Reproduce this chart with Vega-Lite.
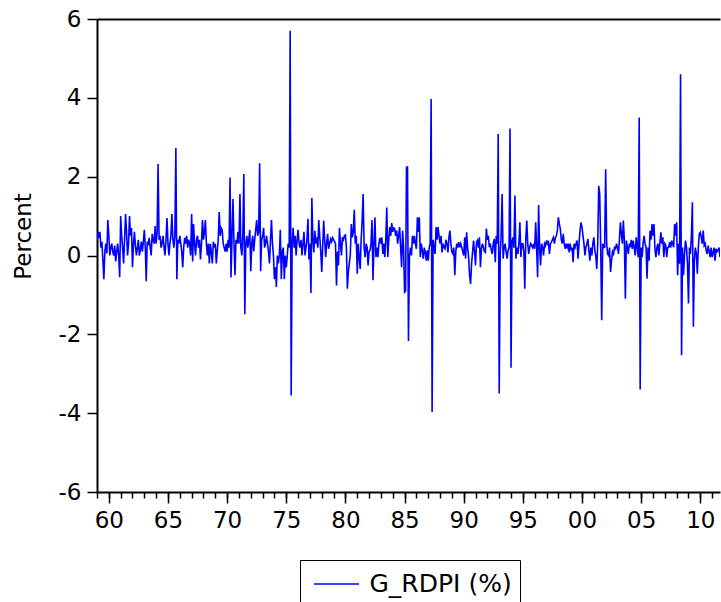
{
"$schema":"https://vega.github.io/schema/vega-lite/v6.json",
"autosize":"none",
"width":623,"height":473,
"padding":{"left":97,"top":19,"right":1,"bottom":110},
"background":"white",
"config":{"view":{"stroke":null},"font":"DejaVu Sans",
"axis":{"labelFont":"DejaVu Sans","titleFont":"DejaVu Sans","labelColor":"black","titleColor":"black","domainColor":"black","tickColor":"black","titleFontWeight":"normal","grid":false,"labelFlush":false,"labelOverlap":false}},
"datasets":{"s":[
{"d":"1959-01-01","v":0.4},{"d":"1959-02-01","v":0.6},{"d":"1959-03-01","v":0.45},{"d":"1959-04-01","v":0.6},{"d":"1959-05-01","v":0.2},{"d":"1959-06-01","v":0.35},{"d":"1959-07-01","v":-0.1},{"d":"1959-08-01","v":-0.6},{"d":"1959-09-01","v":0.1},{"d":"1959-10-01","v":0.3},{"d":"1959-11-01","v":0.05},{"d":"1959-12-01","v":0.9},
{"d":"1960-01-01","v":0.5},{"d":"1960-02-01","v":0.0},{"d":"1960-03-01","v":0.2},{"d":"1960-04-01","v":0.3},{"d":"1960-05-01","v":0.1},{"d":"1960-06-01","v":0.0},{"d":"1960-07-01","v":0.25},{"d":"1960-08-01","v":-0.15},{"d":"1960-09-01","v":0.1},{"d":"1960-10-01","v":0.3},{"d":"1960-11-01","v":0.0},{"d":"1960-12-01","v":-0.55},
{"d":"1961-01-01","v":1.0},{"d":"1961-02-01","v":0.5},{"d":"1961-03-01","v":0.2},{"d":"1961-04-01","v":-0.2},{"d":"1961-05-01","v":0.4},{"d":"1961-06-01","v":1.05},{"d":"1961-07-01","v":0.6},{"d":"1961-08-01","v":0.0},{"d":"1961-09-01","v":0.3},{"d":"1961-10-01","v":1.0},{"d":"1961-11-01","v":0.5},{"d":"1961-12-01","v":0.7},
{"d":"1962-01-01","v":-0.3},{"d":"1962-02-01","v":0.3},{"d":"1962-03-01","v":0.6},{"d":"1962-04-01","v":0.25},{"d":"1962-05-01","v":0.0},{"d":"1962-06-01","v":0.2},{"d":"1962-07-01","v":0.4},{"d":"1962-08-01","v":0.0},{"d":"1962-09-01","v":0.15},{"d":"1962-10-01","v":0.35},{"d":"1962-11-01","v":0.1},{"d":"1962-12-01","v":0.35},
{"d":"1963-01-01","v":0.65},{"d":"1963-02-01","v":0.2},{"d":"1963-03-01","v":-0.65},{"d":"1963-04-01","v":0.35},{"d":"1963-05-01","v":0.3},{"d":"1963-06-01","v":0.45},{"d":"1963-07-01","v":0.2},{"d":"1963-08-01","v":0.0},{"d":"1963-09-01","v":0.55},{"d":"1963-10-01","v":0.4},{"d":"1963-11-01","v":0.3},{"d":"1963-12-01","v":0.75},
{"d":"1964-01-01","v":0.3},{"d":"1964-02-01","v":0.6},{"d":"1964-03-01","v":2.32},{"d":"1964-04-01","v":0.4},{"d":"1964-05-01","v":0.5},{"d":"1964-06-01","v":0.2},{"d":"1964-07-01","v":0.3},{"d":"1964-08-01","v":0.5},{"d":"1964-09-01","v":0.2},{"d":"1964-10-01","v":0.0},{"d":"1964-11-01","v":0.4},{"d":"1964-12-01","v":0.95},
{"d":"1965-01-01","v":0.3},{"d":"1965-02-01","v":0.0},{"d":"1965-03-01","v":0.3},{"d":"1965-04-01","v":0.5},{"d":"1965-05-01","v":1.05},{"d":"1965-06-01","v":0.4},{"d":"1965-07-01","v":0.2},{"d":"1965-08-01","v":0.5},{"d":"1965-09-01","v":2.73},{"d":"1965-10-01","v":-0.6},{"d":"1965-11-01","v":0.4},{"d":"1965-12-01","v":0.3},
{"d":"1966-01-01","v":0.5},{"d":"1966-02-01","v":0.3},{"d":"1966-03-01","v":0.1},{"d":"1966-04-01","v":-0.3},{"d":"1966-05-01","v":0.2},{"d":"1966-06-01","v":0.45},{"d":"1966-07-01","v":0.3},{"d":"1966-08-01","v":0.5},{"d":"1966-09-01","v":0.2},{"d":"1966-10-01","v":0.4},{"d":"1966-11-01","v":0.3},{"d":"1966-12-01","v":0.0},
{"d":"1967-01-01","v":1.05},{"d":"1967-02-01","v":-0.15},{"d":"1967-03-01","v":0.8},{"d":"1967-04-01","v":0.3},{"d":"1967-05-01","v":0.0},{"d":"1967-06-01","v":0.4},{"d":"1967-07-01","v":0.5},{"d":"1967-08-01","v":0.2},{"d":"1967-09-01","v":0.4},{"d":"1967-10-01","v":-0.1},{"d":"1967-11-01","v":0.3},{"d":"1967-12-01","v":0.9},
{"d":"1968-01-01","v":0.4},{"d":"1968-02-01","v":0.6},{"d":"1968-03-01","v":0.9},{"d":"1968-04-01","v":0.3},{"d":"1968-05-01","v":0.0},{"d":"1968-06-01","v":0.3},{"d":"1968-07-01","v":-0.2},{"d":"1968-08-01","v":0.3},{"d":"1968-09-01","v":0.1},{"d":"1968-10-01","v":-0.2},{"d":"1968-11-01","v":0.35},{"d":"1968-12-01","v":0.2},
{"d":"1969-01-01","v":0.3},{"d":"1969-02-01","v":-0.2},{"d":"1969-03-01","v":0.1},{"d":"1969-04-01","v":0.4},{"d":"1969-05-01","v":1.1},{"d":"1969-06-01","v":0.5},{"d":"1969-07-01","v":0.7},{"d":"1969-08-01","v":0.65},{"d":"1969-09-01","v":0.3},{"d":"1969-10-01","v":0.2},{"d":"1969-11-01","v":0.1},{"d":"1969-12-01","v":0.3},
{"d":"1970-01-01","v":0.1},{"d":"1970-02-01","v":0.4},{"d":"1970-03-01","v":0.2},{"d":"1970-04-01","v":1.98},{"d":"1970-05-01","v":-0.56},{"d":"1970-06-01","v":0.5},{"d":"1970-07-01","v":1.43},{"d":"1970-08-01","v":0.3},{"d":"1970-09-01","v":-0.5},{"d":"1970-10-01","v":0.4},{"d":"1970-11-01","v":0.3},{"d":"1970-12-01","v":0.6},
{"d":"1971-01-01","v":0.3},{"d":"1971-02-01","v":1.56},{"d":"1971-03-01","v":0.2},{"d":"1971-04-01","v":0.0},{"d":"1971-05-01","v":0.5},{"d":"1971-06-01","v":2.07},{"d":"1971-07-01","v":-1.49},{"d":"1971-08-01","v":0.3},{"d":"1971-09-01","v":0.5},{"d":"1971-10-01","v":0.2},{"d":"1971-11-01","v":0.4},{"d":"1971-12-01","v":0.65},
{"d":"1972-01-01","v":-0.4},{"d":"1972-02-01","v":0.3},{"d":"1972-03-01","v":0.5},{"d":"1972-04-01","v":0.1},{"d":"1972-05-01","v":0.4},{"d":"1972-06-01","v":0.65},{"d":"1972-07-01","v":0.9},{"d":"1972-08-01","v":0.5},{"d":"1972-09-01","v":0.6},{"d":"1972-10-01","v":2.34},{"d":"1972-11-01","v":-0.4},{"d":"1972-12-01","v":0.4},
{"d":"1973-01-01","v":0.5},{"d":"1973-02-01","v":0.7},{"d":"1973-03-01","v":0.2},{"d":"1973-04-01","v":0.3},{"d":"1973-05-01","v":0.5},{"d":"1973-06-01","v":0.3},{"d":"1973-07-01","v":0.1},{"d":"1973-08-01","v":-0.2},{"d":"1973-09-01","v":0.4},{"d":"1973-10-01","v":0.9},{"d":"1973-11-01","v":0.3},{"d":"1973-12-01","v":0.0},
{"d":"1974-01-01","v":-0.6},{"d":"1974-02-01","v":-0.3},{"d":"1974-03-01","v":-0.8},{"d":"1974-04-01","v":0.0},{"d":"1974-05-01","v":-0.2},{"d":"1974-06-01","v":0.0},{"d":"1974-07-01","v":0.65},{"d":"1974-08-01","v":-0.6},{"d":"1974-09-01","v":0.1},{"d":"1974-10-01","v":0.2},{"d":"1974-11-01","v":-0.6},{"d":"1974-12-01","v":0.0},
{"d":"1975-01-01","v":-0.3},{"d":"1975-02-01","v":0.0},{"d":"1975-03-01","v":0.3},{"d":"1975-04-01","v":0.2},{"d":"1975-05-01","v":5.7},{"d":"1975-06-01","v":-3.55},{"d":"1975-07-01","v":0.3},{"d":"1975-08-01","v":0.7},{"d":"1975-09-01","v":0.2},{"d":"1975-10-01","v":0.5},{"d":"1975-11-01","v":0.0},{"d":"1975-12-01","v":0.4},
{"d":"1976-01-01","v":0.65},{"d":"1976-02-01","v":0.3},{"d":"1976-03-01","v":0.2},{"d":"1976-04-01","v":0.4},{"d":"1976-05-01","v":0.0},{"d":"1976-06-01","v":0.3},{"d":"1976-07-01","v":0.6},{"d":"1976-08-01","v":0.0},{"d":"1976-09-01","v":0.2},{"d":"1976-10-01","v":0.4},{"d":"1976-11-01","v":0.93},{"d":"1976-12-01","v":-0.1},
{"d":"1977-01-01","v":0.3},{"d":"1977-02-01","v":-0.95},{"d":"1977-03-01","v":1.46},{"d":"1977-04-01","v":0.4},{"d":"1977-05-01","v":0.08},{"d":"1977-06-01","v":0.63},{"d":"1977-07-01","v":0.3},{"d":"1977-08-01","v":0.46},{"d":"1977-09-01","v":0.2},{"d":"1977-10-01","v":0.9},{"d":"1977-11-01","v":0.46},{"d":"1977-12-01","v":0.1},
{"d":"1978-01-01","v":-0.42},{"d":"1978-02-01","v":0.3},{"d":"1978-03-01","v":0.89},{"d":"1978-04-01","v":0.4},{"d":"1978-05-01","v":-0.04},{"d":"1978-06-01","v":0.3},{"d":"1978-07-01","v":0.55},{"d":"1978-08-01","v":0.17},{"d":"1978-09-01","v":0.3},{"d":"1978-10-01","v":0.42},{"d":"1978-11-01","v":0.35},{"d":"1978-12-01","v":0.45},
{"d":"1979-01-01","v":0.4},{"d":"1979-02-01","v":0.35},{"d":"1979-03-01","v":0.3},{"d":"1979-04-01","v":-0.76},{"d":"1979-05-01","v":0.1},{"d":"1979-06-01","v":-0.25},{"d":"1979-07-01","v":0.7},{"d":"1979-08-01","v":0.3},{"d":"1979-09-01","v":0.0},{"d":"1979-10-01","v":0.46},{"d":"1979-11-01","v":0.4},{"d":"1979-12-01","v":0.5},
{"d":"1980-01-01","v":0.52},{"d":"1980-02-01","v":0.2},{"d":"1980-03-01","v":-0.84},{"d":"1980-04-01","v":-0.42},{"d":"1980-05-01","v":-0.2},{"d":"1980-06-01","v":0.04},{"d":"1980-07-01","v":0.8},{"d":"1980-08-01","v":0.46},{"d":"1980-09-01","v":0.6},{"d":"1980-10-01","v":1.16},{"d":"1980-11-01","v":0.3},{"d":"1980-12-01","v":0.5},
{"d":"1981-01-01","v":-0.46},{"d":"1981-02-01","v":0.3},{"d":"1981-03-01","v":-0.04},{"d":"1981-04-01","v":-0.34},{"d":"1981-05-01","v":0.4},{"d":"1981-06-01","v":0.89},{"d":"1981-07-01","v":1.56},{"d":"1981-08-01","v":0.2},{"d":"1981-09-01","v":-0.04},{"d":"1981-10-01","v":0.3},{"d":"1981-11-01","v":0.21},{"d":"1981-12-01","v":-0.25},
{"d":"1982-01-01","v":0.1},{"d":"1982-02-01","v":0.13},{"d":"1982-03-01","v":0.3},{"d":"1982-04-01","v":0.9},{"d":"1982-05-01","v":-0.63},{"d":"1982-06-01","v":0.3},{"d":"1982-07-01","v":0.97},{"d":"1982-08-01","v":-0.04},{"d":"1982-09-01","v":0.2},{"d":"1982-10-01","v":-0.04},{"d":"1982-11-01","v":0.3},{"d":"1982-12-01","v":0.45},
{"d":"1983-01-01","v":0.3},{"d":"1983-02-01","v":0.46},{"d":"1983-03-01","v":0.04},{"d":"1983-04-01","v":0.3},{"d":"1983-05-01","v":-0.04},{"d":"1983-06-01","v":0.4},{"d":"1983-07-01","v":1.22},{"d":"1983-08-01","v":-0.04},{"d":"1983-09-01","v":0.4},{"d":"1983-10-01","v":0.72},{"d":"1983-11-01","v":0.5},{"d":"1983-12-01","v":0.82},
{"d":"1984-01-01","v":0.6},{"d":"1984-02-01","v":0.7},{"d":"1984-03-01","v":0.68},{"d":"1984-04-01","v":0.5},{"d":"1984-05-01","v":0.63},{"d":"1984-06-01","v":0.3},{"d":"1984-07-01","v":0.5},{"d":"1984-08-01","v":0.72},{"d":"1984-09-01","v":0.2},{"d":"1984-10-01","v":-0.3},{"d":"1984-11-01","v":0.63},{"d":"1984-12-01","v":0.2},
{"d":"1985-01-01","v":-0.93},{"d":"1985-02-01","v":-0.9},{"d":"1985-03-01","v":2.24},{"d":"1985-04-01","v":2.25},{"d":"1985-05-01","v":-2.17},{"d":"1985-06-01","v":0.0},{"d":"1985-07-01","v":0.2},{"d":"1985-08-01","v":0.0},{"d":"1985-09-01","v":0.5},{"d":"1985-10-01","v":0.3},{"d":"1985-11-01","v":0.5},{"d":"1985-12-01","v":0.3},
{"d":"1986-01-01","v":0.17},{"d":"1986-02-01","v":0.97},{"d":"1986-03-01","v":0.6},{"d":"1986-04-01","v":0.97},{"d":"1986-05-01","v":-0.04},{"d":"1986-06-01","v":0.3},{"d":"1986-07-01","v":0.13},{"d":"1986-08-01","v":-0.08},{"d":"1986-09-01","v":0.2},{"d":"1986-10-01","v":0.08},{"d":"1986-11-01","v":-0.13},{"d":"1986-12-01","v":0.13},
{"d":"1987-01-01","v":-0.13},{"d":"1987-02-01","v":0.2},{"d":"1987-03-01","v":0.3},{"d":"1987-04-01","v":3.97},{"d":"1987-05-01","v":-3.97},{"d":"1987-06-01","v":0.4},{"d":"1987-07-01","v":0.21},{"d":"1987-08-01","v":0.04},{"d":"1987-09-01","v":0.72},{"d":"1987-10-01","v":0.4},{"d":"1987-11-01","v":0.72},{"d":"1987-12-01","v":0.5},
{"d":"1988-01-01","v":0.3},{"d":"1988-02-01","v":0.5},{"d":"1988-03-01","v":0.08},{"d":"1988-04-01","v":0.3},{"d":"1988-05-01","v":0.21},{"d":"1988-06-01","v":0.17},{"d":"1988-07-01","v":0.4},{"d":"1988-08-01","v":0.3},{"d":"1988-09-01","v":0.08},{"d":"1988-10-01","v":0.46},{"d":"1988-11-01","v":0.63},{"d":"1988-12-01","v":0.3},
{"d":"1989-01-01","v":0.08},{"d":"1989-02-01","v":0.04},{"d":"1989-03-01","v":0.2},{"d":"1989-04-01","v":-0.5},{"d":"1989-05-01","v":0.1},{"d":"1989-06-01","v":0.3},{"d":"1989-07-01","v":0.2},{"d":"1989-08-01","v":0.34},{"d":"1989-09-01","v":0.21},{"d":"1989-10-01","v":0.3},{"d":"1989-11-01","v":0.21},{"d":"1989-12-01","v":0.1},
{"d":"1990-01-01","v":0.0},{"d":"1990-02-01","v":0.46},{"d":"1990-03-01","v":-0.08},{"d":"1990-04-01","v":0.59},{"d":"1990-05-01","v":0.2},{"d":"1990-06-01","v":-0.04},{"d":"1990-07-01","v":-0.5},{"d":"1990-08-01","v":-0.72},{"d":"1990-09-01","v":-0.2},{"d":"1990-10-01","v":0.08},{"d":"1990-11-01","v":0.38},{"d":"1990-12-01","v":0.1},
{"d":"1991-01-01","v":-0.25},{"d":"1991-02-01","v":0.34},{"d":"1991-03-01","v":0.38},{"d":"1991-04-01","v":0.2},{"d":"1991-05-01","v":0.46},{"d":"1991-06-01","v":-0.3},{"d":"1991-07-01","v":0.17},{"d":"1991-08-01","v":0.3},{"d":"1991-09-01","v":0.21},{"d":"1991-10-01","v":0.1},{"d":"1991-11-01","v":0.08},{"d":"1991-12-01","v":0.68},
{"d":"1992-01-01","v":0.4},{"d":"1992-02-01","v":0.5},{"d":"1992-03-01","v":0.21},{"d":"1992-04-01","v":0.3},{"d":"1992-05-01","v":0.13},{"d":"1992-06-01","v":0.04},{"d":"1992-07-01","v":0.3},{"d":"1992-08-01","v":0.42},{"d":"1992-09-01","v":-0.17},{"d":"1992-10-01","v":0.5},{"d":"1992-11-01","v":0.3},{"d":"1992-12-01","v":3.08},
{"d":"1993-01-01","v":-3.5},{"d":"1993-02-01","v":0.04},{"d":"1993-03-01","v":0.5},{"d":"1993-04-01","v":1.56},{"d":"1993-05-01","v":-0.08},{"d":"1993-06-01","v":0.2},{"d":"1993-07-01","v":0.3},{"d":"1993-08-01","v":0.1},{"d":"1993-09-01","v":-0.08},{"d":"1993-10-01","v":0.13},{"d":"1993-11-01","v":0.2},{"d":"1993-12-01","v":3.22},
{"d":"1994-01-01","v":-2.85},{"d":"1994-02-01","v":0.38},{"d":"1994-03-01","v":0.46},{"d":"1994-04-01","v":0.2},{"d":"1994-05-01","v":1.52},{"d":"1994-06-01","v":-0.08},{"d":"1994-07-01","v":0.2},{"d":"1994-08-01","v":0.04},{"d":"1994-09-01","v":0.3},{"d":"1994-10-01","v":0.84},{"d":"1994-11-01","v":-0.04},{"d":"1994-12-01","v":0.3},
{"d":"1995-01-01","v":0.3},{"d":"1995-02-01","v":0.1},{"d":"1995-03-01","v":-0.84},{"d":"1995-04-01","v":0.4},{"d":"1995-05-01","v":0.89},{"d":"1995-06-01","v":0.3},{"d":"1995-07-01","v":0.04},{"d":"1995-08-01","v":0.21},{"d":"1995-09-01","v":0.3},{"d":"1995-10-01","v":0.25},{"d":"1995-11-01","v":0.2},{"d":"1995-12-01","v":0.3},
{"d":"1996-01-01","v":0.17},{"d":"1996-02-01","v":0.84},{"d":"1996-03-01","v":0.2},{"d":"1996-04-01","v":-0.55},{"d":"1996-05-01","v":1.28},{"d":"1996-06-01","v":0.2},{"d":"1996-07-01","v":-0.25},{"d":"1996-08-01","v":0.3},{"d":"1996-09-01","v":0.21},{"d":"1996-10-01","v":0.0},{"d":"1996-11-01","v":0.3},{"d":"1996-12-01","v":0.25},
{"d":"1997-01-01","v":0.38},{"d":"1997-02-01","v":0.3},{"d":"1997-03-01","v":0.34},{"d":"1997-04-01","v":0.04},{"d":"1997-05-01","v":0.3},{"d":"1997-06-01","v":0.34},{"d":"1997-07-01","v":0.4},{"d":"1997-08-01","v":0.46},{"d":"1997-09-01","v":0.3},{"d":"1997-10-01","v":0.45},{"d":"1997-11-01","v":0.5},{"d":"1997-12-01","v":0.63},
{"d":"1998-01-01","v":0.97},{"d":"1998-02-01","v":0.8},{"d":"1998-03-01","v":0.68},{"d":"1998-04-01","v":0.4},{"d":"1998-05-01","v":0.3},{"d":"1998-06-01","v":0.55},{"d":"1998-07-01","v":0.3},{"d":"1998-08-01","v":0.17},{"d":"1998-09-01","v":0.3},{"d":"1998-10-01","v":0.21},{"d":"1998-11-01","v":0.3},{"d":"1998-12-01","v":0.08},
{"d":"1999-01-01","v":0.3},{"d":"1999-02-01","v":0.13},{"d":"1999-03-01","v":0.2},{"d":"1999-04-01","v":-0.17},{"d":"1999-05-01","v":0.3},{"d":"1999-06-01","v":0.21},{"d":"1999-07-01","v":0.3},{"d":"1999-08-01","v":0.38},{"d":"1999-09-01","v":-0.08},{"d":"1999-10-01","v":0.3},{"d":"1999-11-01","v":0.63},{"d":"1999-12-01","v":0.84},
{"d":"2000-01-01","v":0.72},{"d":"2000-02-01","v":0.5},{"d":"2000-03-01","v":0.3},{"d":"2000-04-01","v":0.0},{"d":"2000-05-01","v":0.21},{"d":"2000-06-01","v":0.3},{"d":"2000-07-01","v":0.42},{"d":"2000-08-01","v":0.13},{"d":"2000-09-01","v":-0.13},{"d":"2000-10-01","v":0.2},{"d":"2000-11-01","v":0.0},{"d":"2000-12-01","v":0.3},
{"d":"2001-01-01","v":0.46},{"d":"2001-02-01","v":0.13},{"d":"2001-03-01","v":0.0},{"d":"2001-04-01","v":-0.34},{"d":"2001-05-01","v":0.3},{"d":"2001-06-01","v":1.77},{"d":"2001-07-01","v":1.56},{"d":"2001-08-01","v":0.2},{"d":"2001-09-01","v":-1.64},{"d":"2001-10-01","v":0.3},{"d":"2001-11-01","v":0.2},{"d":"2001-12-01","v":0.21},
{"d":"2002-01-01","v":2.19},{"d":"2002-02-01","v":0.3},{"d":"2002-03-01","v":0.04},{"d":"2002-04-01","v":0.0},{"d":"2002-05-01","v":0.2},{"d":"2002-06-01","v":-0.42},{"d":"2002-07-01","v":-0.13},{"d":"2002-08-01","v":0.1},{"d":"2002-09-01","v":0.04},{"d":"2002-10-01","v":0.2},{"d":"2002-11-01","v":0.17},{"d":"2002-12-01","v":0.3},
{"d":"2003-01-01","v":0.2},{"d":"2003-02-01","v":0.04},{"d":"2003-03-01","v":0.4},{"d":"2003-04-01","v":0.84},{"d":"2003-05-01","v":0.55},{"d":"2003-06-01","v":0.3},{"d":"2003-07-01","v":0.89},{"d":"2003-08-01","v":0.4},{"d":"2003-09-01","v":-1.1},{"d":"2003-10-01","v":0.38},{"d":"2003-11-01","v":0.2},{"d":"2003-12-01","v":0.04},
{"d":"2004-01-01","v":0.3},{"d":"2004-02-01","v":0.21},{"d":"2004-03-01","v":0.4},{"d":"2004-04-01","v":0.17},{"d":"2004-05-01","v":0.38},{"d":"2004-06-01","v":0.2},{"d":"2004-07-01","v":0.0},{"d":"2004-08-01","v":0.46},{"d":"2004-09-01","v":0.2},{"d":"2004-10-01","v":-0.04},{"d":"2004-11-01","v":3.5},{"d":"2004-12-01","v":-3.4},
{"d":"2005-01-01","v":0.2},{"d":"2005-02-01","v":-0.04},{"d":"2005-03-01","v":0.3},{"d":"2005-04-01","v":0.5},{"d":"2005-05-01","v":0.3},{"d":"2005-06-01","v":0.21},{"d":"2005-07-01","v":-0.59},{"d":"2005-08-01","v":0.2},{"d":"2005-09-01","v":-0.13},{"d":"2005-10-01","v":0.63},{"d":"2005-11-01","v":0.4},{"d":"2005-12-01","v":0.8},
{"d":"2006-01-01","v":0.5},{"d":"2006-02-01","v":0.8},{"d":"2006-03-01","v":0.17},{"d":"2006-04-01","v":-0.04},{"d":"2006-05-01","v":0.2},{"d":"2006-06-01","v":0.3},{"d":"2006-07-01","v":0.0},{"d":"2006-08-01","v":0.3},{"d":"2006-09-01","v":0.59},{"d":"2006-10-01","v":0.3},{"d":"2006-11-01","v":0.46},{"d":"2006-12-01","v":-0.04},
{"d":"2007-01-01","v":0.3},{"d":"2007-02-01","v":0.25},{"d":"2007-03-01","v":-0.04},{"d":"2007-04-01","v":0.2},{"d":"2007-05-01","v":0.21},{"d":"2007-06-01","v":0.34},{"d":"2007-07-01","v":0.2},{"d":"2007-08-01","v":0.38},{"d":"2007-09-01","v":0.3},{"d":"2007-10-01","v":0.21},{"d":"2007-11-01","v":0.8},{"d":"2007-12-01","v":0.5},
{"d":"2008-01-01","v":0.84},{"d":"2008-02-01","v":-0.5},{"d":"2008-03-01","v":0.3},{"d":"2008-04-01","v":-0.21},{"d":"2008-05-01","v":4.6},{"d":"2008-06-01","v":-2.53},{"d":"2008-07-01","v":0.2},{"d":"2008-08-01","v":-0.5},{"d":"2008-09-01","v":0.04},{"d":"2008-10-01","v":0.38},{"d":"2008-11-01","v":0.2},{"d":"2008-12-01","v":-0.21},
{"d":"2009-01-01","v":-1.22},{"d":"2009-02-01","v":0.2},{"d":"2009-03-01","v":0.04},{"d":"2009-04-01","v":0.5},{"d":"2009-05-01","v":1.35},{"d":"2009-06-01","v":-1.81},{"d":"2009-07-01","v":-0.13},{"d":"2009-08-01","v":0.2},{"d":"2009-09-01","v":0.04},{"d":"2009-10-01","v":-0.46},{"d":"2009-11-01","v":0.2},{"d":"2009-12-01","v":0.55},
{"d":"2010-01-01","v":0.59},{"d":"2010-02-01","v":0.46},{"d":"2010-03-01","v":0.3},{"d":"2010-04-01","v":0.63},{"d":"2010-05-01","v":0.25},{"d":"2010-06-01","v":0.3},{"d":"2010-07-01","v":0.13},{"d":"2010-08-01","v":0.04},{"d":"2010-09-01","v":0.25},{"d":"2010-10-01","v":0.1},{"d":"2010-11-01","v":-0.04},{"d":"2010-12-01","v":0.2},
{"d":"2011-01-01","v":-0.04},{"d":"2011-02-01","v":0.08},{"d":"2011-03-01","v":0.2},{"d":"2011-04-01","v":-0.13},{"d":"2011-05-01","v":0.17},{"d":"2011-06-01","v":0.1},{"d":"2011-07-01","v":0.13},{"d":"2011-08-01","v":0.2},{"d":"2011-09-01","v":-0.04}
]},
"layer":[
{"data":{"name":"s"},
"mark":{"type":"line","strokeWidth":1.6,"clip":true},
"encoding":{
"x":{"field":"d","type":"temporal","scale":{"type":"utc","domain":[{"year":1959,"month":1,"date":1,"utc":true},{"year":2011,"month":9,"date":1,"utc":true}]},
"axis":{"orient":"bottom","title":null,"format":"%y","values":[{"year":1960,"utc":true},{"year":1965,"utc":true},{"year":1970,"utc":true},{"year":1975,"utc":true},{"year":1980,"utc":true},{"year":1985,"utc":true},{"year":1990,"utc":true},{"year":1995,"utc":true},{"year":2000,"utc":true},{"year":2005,"utc":true},{"year":2010,"utc":true}],"labelFontSize":23,"tickSize":11,"tickWidth":1.5,"domainWidth":2,"labelPadding":6,"labelAngle":0}},
"y":{"field":"v","type":"quantitative","scale":{"domain":[-6,6],"nice":false,"zero":false},
"axis":{"values":[-6,-4,-2,0,2,4,6],"labelExpr":"''+datum.value","title":"Percent","titleFontSize":23,"titleX":-74,"titleY":217,"titleAngle":-90,"titleAlign":"center","titleBaseline":"middle","labelFontSize":23,"tickSize":10,"tickWidth":1.5,"domainWidth":2,"labelPadding":6}},
"color":{"datum":"G_RDPI (%)","type":"nominal","scale":{"range":["#0000ff"]},
"legend":{"orient":"none","legendX":203,"legendY":541,"title":null,"strokeColor":"black","fillColor":"white","padding":8,"symbolOffset":12.5,"symbolType":"M-1.5,0L1.5,0","symbolSize":900,"symbolStrokeWidth":1.5,"labelFontSize":25,"labelFont":"DejaVu Sans","labelColor":"black","labelOffset":17}}
}},
{"data":{"values":[{"d":"1959-01-01"}]},
"mark":{"type":"point","opacity":0},
"encoding":{
"x":{"field":"d","type":"temporal","scale":{"type":"utc","domain":[{"year":1959,"month":1,"date":1,"utc":true},{"year":2011,"month":9,"date":1,"utc":true}]},
"axis":{"orient":"bottom","title":null,"labels":false,"domain":false,"tickSize":6,"tickWidth":1.5,"values":[{"year":1959,"utc":true},{"year":1960,"utc":true},{"year":1961,"utc":true},{"year":1962,"utc":true},{"year":1963,"utc":true},{"year":1964,"utc":true},{"year":1965,"utc":true},{"year":1966,"utc":true},{"year":1967,"utc":true},{"year":1968,"utc":true},{"year":1969,"utc":true},{"year":1970,"utc":true},{"year":1971,"utc":true},{"year":1972,"utc":true},{"year":1973,"utc":true},{"year":1974,"utc":true},{"year":1975,"utc":true},{"year":1976,"utc":true},{"year":1977,"utc":true},{"year":1978,"utc":true},{"year":1979,"utc":true},{"year":1980,"utc":true},{"year":1981,"utc":true},{"year":1982,"utc":true},{"year":1983,"utc":true},{"year":1984,"utc":true},{"year":1985,"utc":true},{"year":1986,"utc":true},{"year":1987,"utc":true},{"year":1988,"utc":true},{"year":1989,"utc":true},{"year":1990,"utc":true},{"year":1991,"utc":true},{"year":1992,"utc":true},{"year":1993,"utc":true},{"year":1994,"utc":true},{"year":1995,"utc":true},{"year":1996,"utc":true},{"year":1997,"utc":true},{"year":1998,"utc":true},{"year":1999,"utc":true},{"year":2000,"utc":true},{"year":2001,"utc":true},{"year":2002,"utc":true},{"year":2003,"utc":true},{"year":2004,"utc":true},{"year":2005,"utc":true},{"year":2006,"utc":true},{"year":2007,"utc":true},{"year":2008,"utc":true},{"year":2009,"utc":true},{"year":2010,"utc":true},{"year":2011,"utc":true}]}}
}},
{"data":{"values":[{"d":"1959-01-01"}]},
"mark":{"type":"point","opacity":0},
"encoding":{
"x":{"field":"d","type":"temporal","scale":{"type":"utc","domain":[{"year":1959,"month":1,"date":1,"utc":true},{"year":2011,"month":9,"date":1,"utc":true}]},
"axis":{"orient":"top","title":null,"labels":false,"ticks":false,"domain":true,"domainWidth":2}}
}}
],
"resolve":{"axis":{"x":"independent"}}
}
